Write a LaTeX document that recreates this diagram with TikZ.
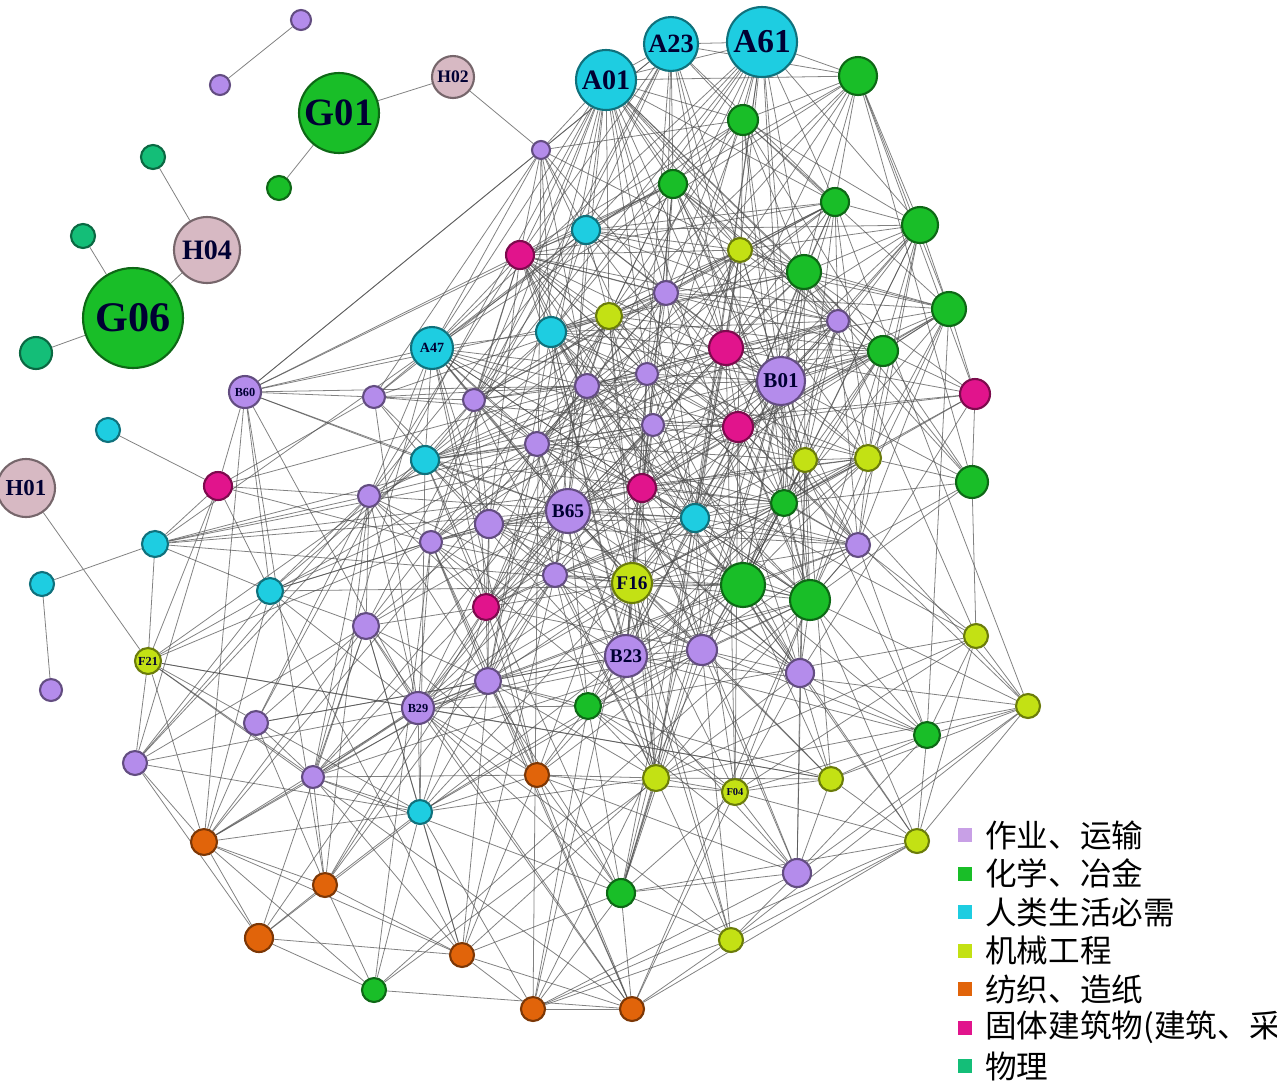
\documentclass[tikz,border=0pt]{standalone}
\usepackage{fontspec}
\usetikzlibrary{calc}
\setmainfont{Liberation Serif}
\newfontfamily\cjk{Noto Sans CJK SC}
\pgfdeclarelayer{bg}
\pgfsetlayers{bg,main}
\definecolor{cy}{RGB}{30,205,225}
\definecolor{gr}{RGB}{25,190,40}
\definecolor{ye}{RGB}{195,225,20}
\definecolor{pu}{RGB}{180,140,235}
\definecolor{ma}{RGB}{225,20,140}
\definecolor{or}{RGB}{225,100,10}
\definecolor{pk}{RGB}{215,185,195}
\definecolor{ph}{RGB}{20,190,120}
\definecolor{lg}{RGB}{200,160,230}
\tikzset{
 nd/.style={circle,inner sep=0pt,line width=1.2pt,text=black!80!blue},
 edge/.style={draw=black!70,line width=0.45pt,opacity=0.7},
}
\begin{document}
\begin{tikzpicture}[x=0.02cm,y=-0.02cm]
\useasboundingbox (0,0) rectangle (1277,1080);
% peripheral
\foreach \n/\x/\y/\c/\r/\t/\f in {
 p1/301/20/pu/10/{}/5, p2/220/85/pu/10/{}/5,
 G01/339/113/gr/40/G01/22, H02/453/77/pk/21/H02/10, p3/279/188/gr/12/{}/5,
 p4/153/157/ph/12/{}/5, H04/207/250/pk/33/H04/16, G06/133/318/gr/50/G06/24,
 p5/83/236/ph/12/{}/5, p6/36/353/ph/16/{}/5, H01/26/488/pk/29/H01/13,
 p7/108/430/cy/12/{}/5, p8/42/584/cy/12/{}/5, p9/51/690/pu/11/{}/5}
 \node[nd,fill=\c,draw=\c!55!black,minimum size={\r*0.04cm},font=\fontsize{\f}{\f}\selectfont\bfseries] (\n) at (\x,\y) {\t};
% main
\foreach \x/\y/\c/\r/\t/\f [count=\i] in {
541/150/pu/9/{}/5, 148/661/ye/13/F21/7, 218/486/ma/14/{}/5, 155/544/cy/13/{}/5,
606/80/cy/30/A01/16, 671/44/cy/27/A23/15, 762/42/cy/35/A61/19, 586/230/cy/14/{}/5, 551/332/cy/15/{}/5, 432/348/cy/21/A47/8, 425/460/cy/14/{}/5, 695/518/cy/14/{}/5, 270/591/cy/13/{}/5, 420/812/cy/12/{}/5,
858/76/gr/19/{}/5, 743/120/gr/15/{}/5, 673/184/gr/14/{}/5, 835/202/gr/14/{}/5, 920/225/gr/18/{}/5, 804/272/gr/17/{}/5, 949/309/gr/17/{}/5, 883/351/gr/15/{}/5, 972/482/gr/16/{}/5, 784/503/gr/13/{}/5, 743/585/gr/22/{}/5, 810/600/gr/20/{}/5, 588/706/gr/13/{}/5, 927/735/gr/13/{}/5, 621/893/gr/14/{}/5, 374/990/gr/12/{}/5,
740/250/ye/12/{}/5, 609/316/ye/13/{}/5, 805/460/ye/12/{}/5, 868/458/ye/13/{}/5, 632/583/ye/20/F16/11, 976/636/ye/12/{}/5, 1028/706/ye/12/{}/5, 656/778/ye/13/{}/5, 735/792/ye/13/F04/6, 831/779/ye/12/{}/5, 917/841/ye/12/{}/5, 731/940/ye/12/{}/5,
666/293/pu/12/{}/5, 838/321/pu/11/{}/5, 781/381/pu/24/B01/12, 587/386/pu/12/{}/5, 647/374/pu/11/{}/5, 653/425/pu/11/{}/5, 537/444/pu/12/{}/5, 474/400/pu/11/{}/5, 374/397/pu/11/{}/5, 245/392/pu/16/B60/7, 369/496/pu/11/{}/5, 489/524/pu/14/{}/5, 568/511/pu/22/B65/11, 431/542/pu/11/{}/5, 555/575/pu/12/{}/5, 858/545/pu/12/{}/5, 366/626/pu/13/{}/5, 626/656/pu/21/B23/11, 702/650/pu/15/{}/5, 800/673/pu/14/{}/5, 488/681/pu/13/{}/5, 418/708/pu/16/B29/7, 256/723/pu/12/{}/5, 135/763/pu/12/{}/5, 313/777/pu/11/{}/5, 797/873/pu/14/{}/5,
520/255/ma/14/{}/5, 726/348/ma/17/{}/5, 975/394/ma/15/{}/5, 738/427/ma/15/{}/5, 642/488/ma/14/{}/5, 486/607/ma/13/{}/5,
537/775/or/12/{}/5, 204/842/or/13/{}/5, 325/885/or/12/{}/5, 259/938/or/14/{}/5, 462/955/or/12/{}/5, 533/1009/or/12/{}/5, 632/1009/or/12/{}/5}
 {\node[nd,fill=\c,draw=\c!55!black,minimum size={\r*0.04cm},font=\fontsize{\f}{\f}\selectfont\bfseries] (m\i) at (\x,\y) {\t};
  \expandafter\xdef\csname R\i\endcsname{\r}%
  \xdef\N{\i}}
\pgfmathsetseed{11}
\begin{pgfonlayer}{bg}
\foreach \i in {1,...,\N}{
 \foreach \j in {\i,...,\N}{
  \ifnum\j>\i
   \edef\ri{\csname R\i\endcsname}\edef\rj{\csname R\j\endcsname}%
   \path let \p1=(m\i.center),\p2=(m\j.center),\n1={veclen(\x2-\x1,\y2-\y1)} in
     \pgfextra{\pgfmathparse{rnd<(0.85*exp(-((\n1/135)^2))+0.13*exp(-((\n1/300)^2)))*sqrt(\ri*\rj)/13}\global\let\flag\pgfmathresult};
   \ifdim\flag pt>0.5pt \draw[edge] (m\i) -- (m\j); \fi
  \fi}}
\draw[edge] (p1)--(p2) (G01)--(H02) (G01)--(p3) (H02)--(m1) (p4)--(H04) (H04)--(G06) (p5)--(G06) (G06)--(p6)
 (H01)--(m2) (p7)--(m3) (p8)--(p9) (p8)--(m4);
\end{pgfonlayer}
% legend
\foreach \c/\t [count=\k] in {lg/作业、运输, gr/化学、冶金, cy/人类生活必需, ye/机械工程, or/纺织、造纸, ma/固体建筑物(建筑、采, ph/物理}
 {\node[fill=\c,minimum size=0.28cm,inner sep=0pt] (s\k) at (965,{835+(\k-1)*38.5}) {};
  \node[anchor=west,font=\cjk\fontsize{18}{18}\selectfont,inner sep=0pt] (l\k) at (985,{835+(\k-1)*38.5}) {\t};}
\end{tikzpicture}
\end{document}
